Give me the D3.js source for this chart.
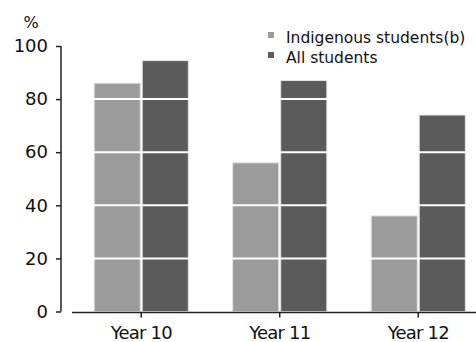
<!DOCTYPE html>
<html>
<head>
<meta charset="utf-8">
<script src="https://cdn.jsdelivr.net/npm/d3@7"></script>
<style>
  body { margin: 0; background: #fff; }
  svg { display: block; font-family: "DejaVu Sans", sans-serif; }
</style>
</head>
<body>
<svg id="chart" width="476" height="342"></svg>
<script>
// data
const categories = ["Year 10", "Year 11", "Year 12"];
const seriesNames = ["Indigenous students(b)", "All students"];
const indigenous = [86, 56, 36];
const allStudents = [94.5, 87, 74];
const yTicks = [0, 20, 40, 60, 80, 100];
const colors = ["#9b9b9b", "#5b5b5b"];

const svg = d3.select("#chart");

// scales
const y = d3.scaleLinear().domain([0, 100]).range([311.5, 46]);

const x0 = d3.scaleBand()
  .domain(categories)
  .range([72, 487.5])
  .paddingInner(0.32)
  .paddingOuter(0.16);

const x1 = d3.scaleBand()
  .domain([0, 1])
  .range([0, x0.bandwidth()])
  .paddingInner(0.04);

// build rows for the bars
const rows = categories.flatMap((c, i) => [
  { cat: c, s: 0, v: indigenous[i] },
  { cat: c, s: 1, v: allStudents[i] },
]);

// bars
svg.append("g")
  .selectAll("rect")
  .data(rows)
  .join("rect")
  .attr("x", d => x0(d.cat) + x1(d.s))
  .attr("y", d => y(d.v))
  .attr("width", x1.bandwidth())
  .attr("height", d => y(0) - y(d.v))
  .attr("fill", d => colors[d.s])
  .attr("stroke", "#e4e4e4")
  .attr("stroke-width", 1);

// white gridlines across the bars
svg.append("g")
  .selectAll("line")
  .data(yTicks.filter(t => t > 0 && t < 100))
  .join("line")
  .attr("x1", 72)
  .attr("x2", 476)
  .attr("y1", d => y(d))
  .attr("y2", d => y(d))
  .attr("stroke", "#fff")
  .attr("stroke-width", 2);

// y axis
const yAxis = svg.append("g")
  .attr("transform", "translate(61,0)")
  .call(d3.axisLeft(y).tickValues(yTicks).tickSize(5).tickPadding(8));
yAxis.select(".domain").attr("stroke", "#222").attr("stroke-width", 1.5).attr("d", `M0,${y(100)}V${y(0)}`);
yAxis.selectAll(".tick line").attr("stroke", "#222").attr("stroke-width", 1.5);
yAxis.selectAll("text")
  .attr("font-size", 18)
  .attr("font-family", "DejaVu Sans")
  .attr("fill", "#111");

// x axis
const xAxis = svg.append("g")
  .attr("transform", `translate(0,${y(0) + 1})`)
  .call(d3.axisBottom(x0).tickSize(5).tickPadding(9));
xAxis.select(".domain").attr("stroke", "#222").attr("stroke-width", 1.5).attr("d", "M72,0H476");
xAxis.selectAll(".tick line").attr("stroke", "#222").attr("stroke-width", 1.5);
xAxis.selectAll("text")
  .attr("font-size", 18)
  .attr("font-family", "DejaVu Sans")
  .attr("letter-spacing", -0.8)
  .attr("fill", "#111");

// unit label
svg.append("text")
  .attr("x", 31)
  .attr("y", 28)
  .attr("text-anchor", "middle")
  .attr("font-size", 16)
  .attr("fill", "#111")
  .text("%");

// legend
const legend = svg.append("g")
  .selectAll("g")
  .data(seriesNames)
  .join("g")
  .attr("transform", (d, i) => `translate(268,${32 + i * 20})`);

legend.append("rect")
  .attr("width", 6)
  .attr("height", 6)
  .attr("fill", (d, i) => colors[i]);

legend.append("text")
  .attr("x", 18)
  .attr("y", 11)
  .attr("font-size", 15.5)
  .attr("fill", "#111")
  .text(d => d);
</script>
</body>
</html>
